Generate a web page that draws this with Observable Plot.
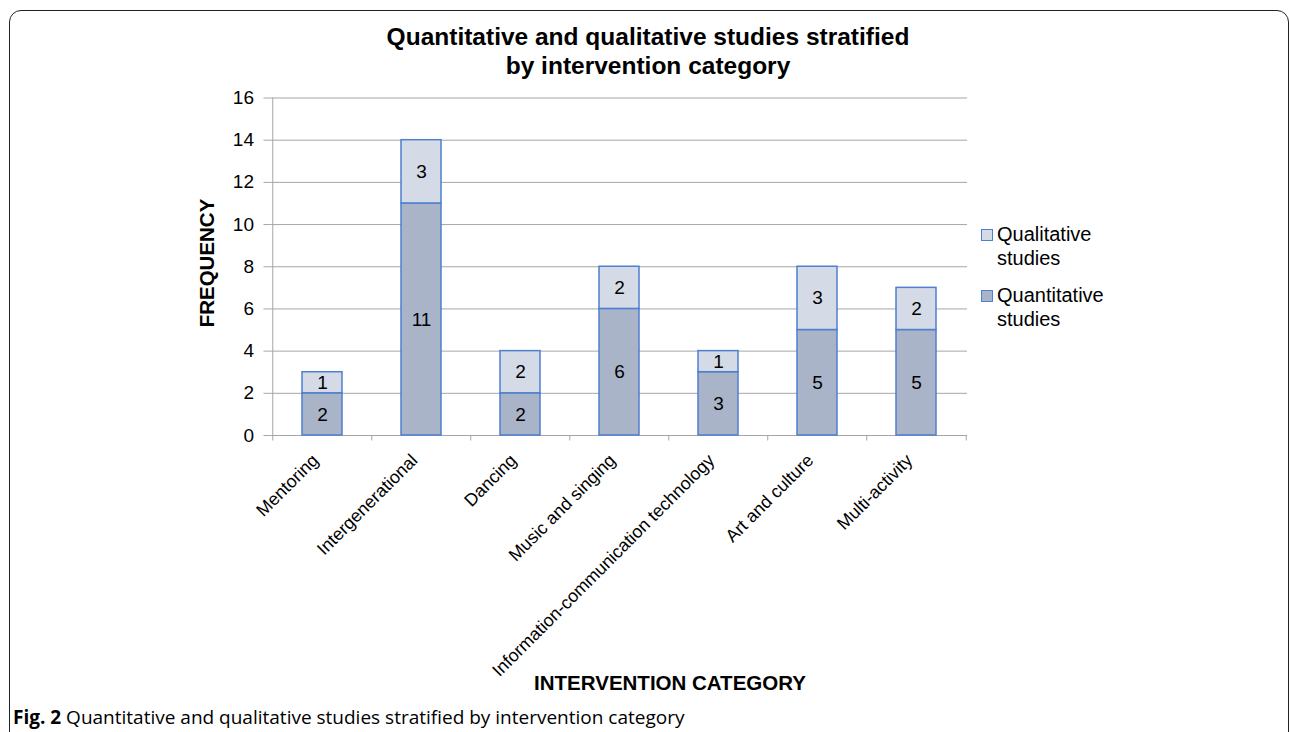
<!DOCTYPE html>
<html>
<head>
<meta charset="utf-8">
<script src="https://cdn.jsdelivr.net/npm/d3@7"></script>
<script src="https://cdn.jsdelivr.net/npm/@observablehq/plot@0.6"></script>
<style>
  html, body { margin: 0; padding: 0; background: #fff; }
  body { width: 1290px; height: 732px; overflow: hidden; position: relative; font-family: "Liberation Sans", Arial, sans-serif; }
  #frame { position: absolute; left: 9px; top: 10px; width: 1278px; height: 760px; border: 1.5px solid #222; border-radius: 12px; pointer-events: none; }
  #chart { position: absolute; left: 0; top: 0; }
  #chart svg, #chart svg text { font-family: "Liberation Sans", Arial, sans-serif !important; }
  .abs { position: absolute; color: #000; white-space: nowrap; }
  #title { left: 0; width: 1296px; top: 22px; text-align: center; font-weight: bold; font-size: 24.5px; line-height: 29px; }
  #ylab { left: 207px; top: 263px; transform: translate(-50%, -50%) rotate(-90deg); font-weight: bold; font-size: 20.5px; }
  #xlab { left: 670px; top: 683px; transform: translate(-50%, -50%); font-weight: bold; font-size: 20.5px; }
  #legend { left: 981px; top: 222px; font-size: 20px; line-height: 24px; }
  .item { position: relative; padding-left: 16px; margin-bottom: 13px; }
  .sw { position: absolute; left: 0; top: 7px; width: 10px; height: 10px; border: 1.5px solid #4f7fcf; }
  #caption { left: 13px; top: 704px; font-family: "Open Sans", "Noto Sans", sans-serif; font-size: 19px; }
</style>
</head>
<body>
<div id="chart"></div>
<div id="title" class="abs">Quantitative and qualitative studies stratified<br>by intervention category</div>
<div id="ylab" class="abs">FREQUENCY</div>
<div id="xlab" class="abs">INTERVENTION CATEGORY</div>
<div id="legend" class="abs"></div>
<div id="caption" class="abs"><b>Fig. 2</b> Quantitative and qualitative studies stratified by intervention category</div>
<div id="frame"></div>
<script>
const categories = ["Mentoring", "Intergenerational", "Dancing", "Music and singing", "Information-communication technology", "Art and culture", "Multi-activity"];
const quantitative = [2, 11, 2, 6, 3, 5, 5];
const qualitative = [1, 3, 2, 2, 1, 3, 2];
const seriesNames = ["Quantitative studies", "Qualitative studies"];
const seriesColors = ["#aab4c9", "#d5dbe6"];
const yTicks = [0, 2, 4, 6, 8, 10, 12, 14, 16];

const data = categories.flatMap((c, i) => [
  {cat: c, type: seriesNames[0], value: quantitative[i]},
  {cat: c, type: seriesNames[1], value: qualitative[i]}
]);

const W = 1290, H = 700;
const mL = 270.5, mR = W - 967, mT = 97.5, mB = H - 435;
const step = (W - mL - mR) / categories.length;
const strokeBlue = "#4f7fcf";
const FONT = "'Liberation Sans', Arial, sans-serif";

const plot = Plot.plot({
  width: W,
  height: H,
  marginLeft: mL,
  marginRight: mR,
  marginTop: mT,
  marginBottom: mB,
  style: {background: "transparent", fontFamily: FONT, color: "#000"},
  x: {domain: categories, paddingInner: 0.6, paddingOuter: 0.3, label: null},
  y: {domain: [0, 16], label: null},
  color: {domain: seriesNames, range: seriesColors},
  marks: [
    Plot.gridY(yTicks, {stroke: "#a6a6a6", strokeOpacity: 1, strokeWidth: 1}),
    Plot.ruleX([categories[0]], {y1: 0, y2: 16, dx: -step / 2, stroke: "#a6a6a6"}),
    Plot.ruleX(categories, {y1: 0, y2: -0.26, dx: -step / 2, stroke: "#a6a6a6"}),
    Plot.ruleX([categories[categories.length - 1]], {y1: 0, y2: -0.26, dx: step / 2, stroke: "#a6a6a6"}),
    Plot.axisY(yTicks, {tickSize: 7, tickPadding: 10, fontSize: 19, stroke: "#a6a6a6", fill: "#000", label: null, fontFamily: FONT}),
    Plot.axisX({tickRotate: -45, tickSize: 0, tickPadding: 18, dx: -7, dy: 4, fontSize: 17.8, fill: "#000", label: null, fontFamily: FONT}),
    Plot.barY(data, {x: "cat", y: "value", fill: "type", stroke: strokeBlue, strokeWidth: 1.5}),
    Plot.text(data, Plot.stackY({x: "cat", y: "value", text: "value", fontSize: 19, fill: "#000", fontFamily: FONT}))
  ]
});
document.getElementById("chart").appendChild(plot);

const legend = document.getElementById("legend");
[1, 0].forEach(k => {
  const [first, second] = seriesNames[k].split(" ");
  const d = document.createElement("div");
  d.className = "item";
  d.innerHTML = `<span class="sw" style="background:${seriesColors[k]}"></span>${first}<br>${second}`;
  legend.appendChild(d);
});
</script>
</body>
</html>
